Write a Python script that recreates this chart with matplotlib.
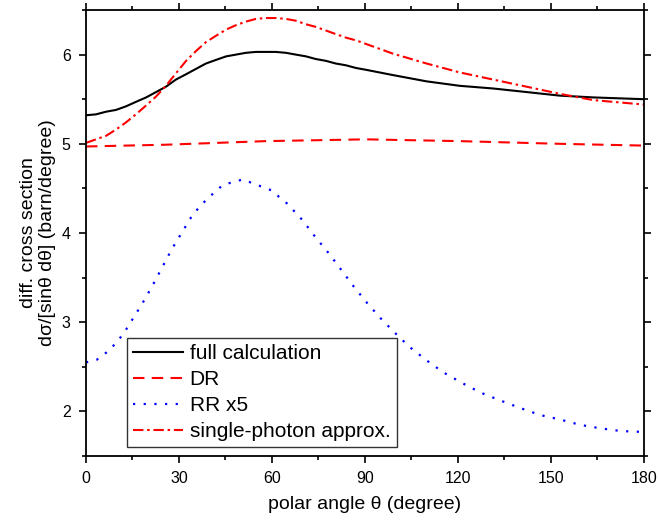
import numpy as np
import matplotlib
matplotlib.use("Agg")
import matplotlib.pyplot as plt

plt.rcParams["font.family"] = ["Liberation Sans", "DejaVu Sans"]

# polar angle (degree) and curves
theta_full = [0, 3.2, 6.5, 9.7, 12.9, 16.1, 19.4, 22.6, 25.8, 29, 32.3, 35.5, 38.7,
              41.9, 45.2, 48.4, 51.6, 54.8, 58, 61.3, 64.5, 67.7, 71, 74.2, 77.4,
              80.6, 83.9, 87.1, 90.3, 99.1, 109.9, 120.6, 131.4, 142.2, 152.9,
              163.7, 180]
full = [5.32, 5.33, 5.36, 5.38, 5.42, 5.47, 5.52, 5.58, 5.64, 5.72, 5.78, 5.84, 5.90,
        5.94, 5.98, 6.00, 6.02, 6.03, 6.03, 6.03, 6.02, 6.00, 5.98, 5.95, 5.93,
        5.90, 5.88, 5.85, 5.83, 5.77, 5.70, 5.65, 5.62, 5.58, 5.54, 5.52, 5.50]

theta_dr = [0, 25.8, 58, 90.3, 120.6, 152.9, 180]
dr = [4.97, 4.99, 5.03, 5.05, 5.03, 5.00, 4.98]

theta_rr = [0, 3.5, 5.9, 8.4, 10.5, 12.6, 14.4, 16.2, 18, 21.3, 24.5, 27.7, 31.2,
            34.5, 39, 44.2, 50.6, 59.7, 64.9, 69.7, 73.9, 78.4, 82.3, 86.4, 90.6,
            94.9, 99.7, 104.5, 110, 115.2, 121.3, 127.4, 133.9, 140, 146.5, 152.9,
            159.4, 166.1, 172.6, 180]
rr = [2.55, 2.58, 2.64, 2.72, 2.80, 2.90, 3.00, 3.10, 3.20, 3.40, 3.61, 3.82, 4.02,
      4.21, 4.38, 4.54, 4.60, 4.48, 4.33, 4.15, 3.96, 3.77, 3.59, 3.40, 3.22,
      3.05, 2.88, 2.72, 2.57, 2.44, 2.32, 2.21, 2.12, 2.04, 1.96, 1.91,
      1.85, 1.81, 1.78, 1.77]

theta_sp = [0, 3.2, 6.5, 9.7, 12.9, 16.1, 19.4, 22.6, 25.8, 29, 32.3, 35.5, 38.7,
            41.9, 45.2, 48.4, 51.6, 54.8, 58, 61.3, 64.5, 67.7, 71, 74.2, 77.4,
            80.6, 83.9, 87.1, 90.3, 99.1, 109.9, 120.6, 131.4, 142.2, 152.9,
            163.7, 180]
single = [5.01, 5.05, 5.09, 5.16, 5.24, 5.33, 5.43, 5.53, 5.65, 5.79, 5.93, 6.04, 6.14,
          6.21, 6.28, 6.33, 6.37, 6.40, 6.41, 6.41, 6.40, 6.38, 6.34, 6.31, 6.27,
          6.23, 6.19, 6.16, 6.12, 6.01, 5.90, 5.80, 5.72, 5.64, 5.56, 5.49, 5.44]

x_ticks = [0, 30, 60, 90, 120, 150, 180]
y_ticks = [2, 3, 4, 5, 6]

fig = plt.figure(figsize=(6.59, 5.26), dpi=100)
ax = fig.add_axes([0.1305, 0.133, 0.8465, 0.848])

ax.plot(theta_full, full, color="black", lw=1.5, label="full calculation")
ax.plot(theta_dr, dr, color="red", lw=1.5, linestyle=(0, (5.5, 3.5)), label="DR")
ax.plot(theta_rr, rr, color="blue", lw=1.6, linestyle=(0, (1, 3.8)), label="RR x5")
ax.plot(theta_sp, single, color="red", lw=1.5, linestyle=(0, (5, 1.8, 1.2, 1.8)),
        label="single-photon approx.")

ax.set_xlim(0, 180)
ax.set_ylim(1.5, 6.5)
ax.set_xticks(x_ticks)
ax.set_yticks(y_ticks)
ax.set_xticks(np.arange(15, 180, 30), minor=True)
ax.set_yticks(np.arange(1.5, 6.6, 1.0), minor=True)

ax.tick_params(which="both", direction="out", top=True, right=True, labelsize=11.5,
               width=1.2)
ax.tick_params(which="major", length=5, pad=6)
ax.tick_params(which="minor", length=3)
for s in ax.spines.values():
    s.set_linewidth(1.3)

ax.set_xlabel("polar angle θ (degree)", fontsize=14, labelpad=7)
ax.set_ylabel("diff. cross section\ndσ/[sinθ dθ] (barn/degree)", fontsize=14,
              labelpad=4)

leg = ax.legend(loc="upper left", bbox_to_anchor=(0.0735, 0.2646), fontsize=15,
                frameon=True, fancybox=False, handlelength=2.4, borderpad=0.3,
                labelspacing=0.33, handletextpad=0.3, borderaxespad=0)
leg.get_frame().set_edgecolor("black")
leg.get_frame().set_linewidth(1.0)

fig.savefig("out.png", dpi=100)
